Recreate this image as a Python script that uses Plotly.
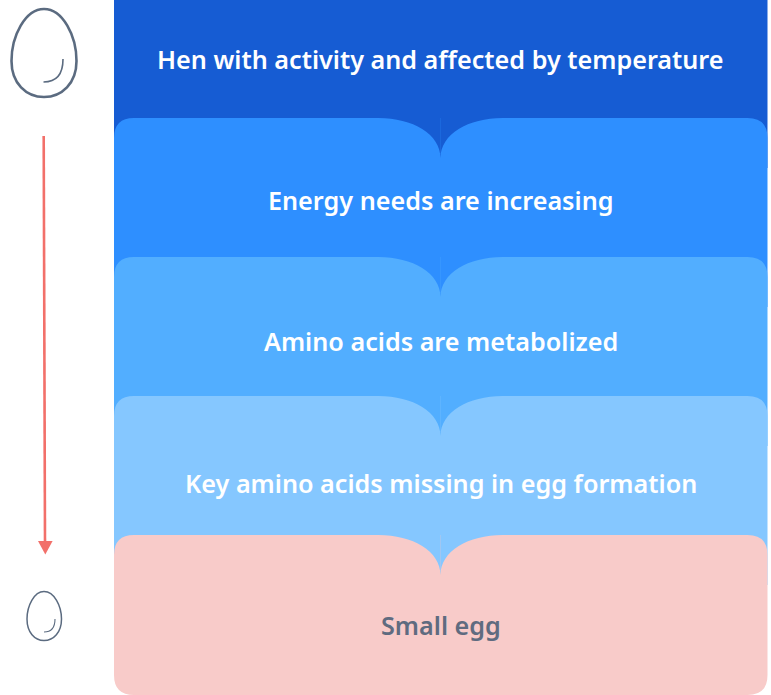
import plotly.graph_objects as go

labels = ["Hen with activity and affected by temperature", "Energy needs are increasing",
          "Amino acids are metabolized", "Key amino acids missing in egg formation", "Small egg"]
band_colors = ["#165CD3", "#2E8FFF", "#52AEFF", "#85C7FF", "#F8CBC9"]
label_colors = ["#FFFFFF", "#FFFFFF", "#FFFFFF", "#FFFFFF", "#5F6B80"]
band_tops = [0, 118, 257, 396, 535]
label_y = [59, 200, 341, 483, 625]

W, H = 771, 695
L, R, C, BOT = 114, 767.5, 440.5, 695
RAD, NOTCH, LOBE = 20, 40, 62
INK = "#5B6B80"
RED = "#F2706A"


def band(top, color, index):
    last = index == len(band_tops) - 1
    bottom = BOT if last else band_tops[index + 1] + NOTCH + 10
    if index == 0:
        d = f"M{L},{top} L{R},{top} L{R},{bottom} L{L},{bottom} Z"
    else:
        end = (f"L{R},{bottom - RAD} Q{R},{bottom} {R - RAD},{bottom} "
               f"L{L + RAD},{bottom} Q{L},{bottom} {L},{bottom - RAD} Z") if last else \
              f"L{R},{bottom} L{L},{bottom} Z"
        d = (f"M{L},{top + RAD} Q{L},{top} {L + RAD},{top} L{C - LOBE},{top} "
             f"C{C - 28},{top} {C},{top + 16} {C},{top + NOTCH} "
             f"C{C},{top + 16} {C + 28},{top} {C + LOBE},{top} L{R - RAD},{top} "
             f"Q{R},{top} {R},{top + RAD} {end}")
    return dict(type="path", path=d, fillcolor=color, line_width=0, layer="below")


def egg(cx, x0, x1, top, bottom, wide, lw):
    d = (f"M{cx},{top} C{cx + (x1 - cx) * 0.58},{top} {x1},{wide - (wide - top) * 0.48} {x1},{wide} "
         f"C{x1},{wide + (bottom - wide) * 0.62} {cx + (x1 - cx) * 0.55},{bottom} {cx},{bottom} "
         f"C{cx - (cx - x0) * 0.55},{bottom} {x0},{wide + (bottom - wide) * 0.62} {x0},{wide} "
         f"C{x0},{wide - (wide - top) * 0.48} {cx - (cx - x0) * 0.58},{top} {cx},{top} Z")
    return dict(type="path", path=d, line=dict(color=INK, width=lw), fillcolor="rgba(0,0,0,0)")


def gleam(x0, y0, x1, y1, lw):
    d = f"M{x0},{y0} Q{x0},{y1} {x1},{y1}"
    return dict(type="path", path=d, line=dict(color=INK, width=lw), fillcolor="rgba(0,0,0,0)")


shapes = [band(t, c, i) for i, (t, c) in enumerate(zip(band_tops, band_colors))]
for t, c in zip(band_tops[1:], band_colors[1:]):
    shapes.append(dict(type="line", x0=C, x1=C, y0=t, y1=t + NOTCH - 4,
                       line=dict(color=c, width=0.6), opacity=0.4))
shapes += [
    egg(44, 11.5, 76.5, 9, 97, 61, 2.6),
    gleam(63, 59, 43.5, 82, 1.6),
    egg(44, 27, 61.5, 591.5, 640.5, 619, 1.5),
    gleam(55, 619, 44, 632, 1.1),
    dict(type="line", x0=43.7, x1=45, y0=136, y1=543, line=dict(color=RED, width=2.6)),
    dict(type="path", path="M38,541 L52.6,541 L45.3,554.5 Z", fillcolor=RED, line_width=0),
]

annotations = [
    dict(x=C, y=y, text=t, showarrow=False, xanchor="center", yanchor="middle",
         font=dict(family="Noto Sans", size=25.2, color=c, weight=600))
    for t, y, c in zip(labels, label_y, label_colors)
]

fig = go.Figure()
fig.update_layout(
    width=W, height=H, margin=dict(l=0, r=0, t=0, b=0),
    paper_bgcolor="white", plot_bgcolor="white", showlegend=False,
    xaxis=dict(range=[0, W], visible=False, fixedrange=True),
    yaxis=dict(range=[H, 0], visible=False, fixedrange=True),
    shapes=shapes, annotations=annotations,
)
fig.write_html("out.html", config={"displayModeBar": False},
               post_script="document.body.style.margin='0';document.body.style.overflow='hidden';")
